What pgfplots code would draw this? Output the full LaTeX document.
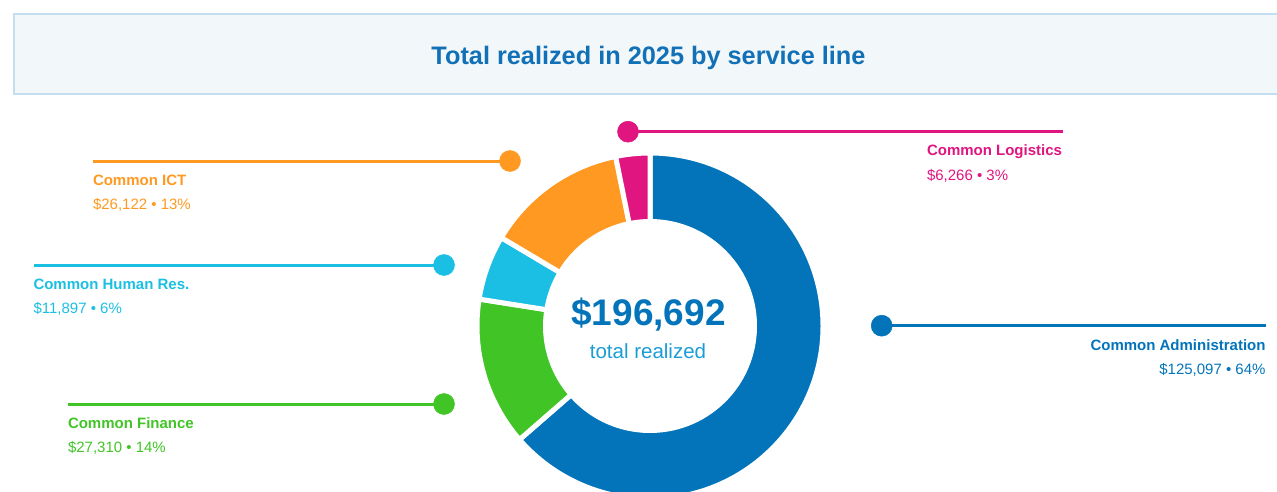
\documentclass[border=0pt]{standalone}
\usepackage{pgfplots}
\pgfplotsset{compat=1.18}
\usepackage{pgfplotstable}
\usepackage{fontspec}
\setmainfont{Liberation Sans}

\definecolor{cAdm}{RGB}{3,116,186}
\definecolor{cFin}{RGB}{65,197,38}
\definecolor{cHR}{RGB}{27,191,227}
\definecolor{cICT}{RGB}{255,153,34}
\definecolor{cLog}{RGB}{224,21,127}
\definecolor{cTitle}{RGB}{18,112,182}
\definecolor{cSub}{RGB}{26,157,215}
\definecolor{cBoxFill}{RGB}{242,247,250}
\definecolor{cBoxLine}{RGB}{194,222,240}

\tikzset{
  lblB/.style={inner sep=0pt, outer sep=0pt, font=\fontsize{15}{18}\selectfont\bfseries},
  lblR/.style={inner sep=0pt, outer sep=0pt, font=\fontsize{15}{18}\selectfont},
}

\pgfplotstableread{
id value
Administration 125097
Finance 27310
HumanRes 11897
ICT 26122
Logistics 6266
}\donutdata

\newcommand\donutwedge[3]{%
  \fill[#1, draw=white, line width=5pt]
    ([shift={(#2:173pt)}]axis cs:650,165) arc[start angle=#2, end angle=#3, radius=173pt]
    -- ([shift={(#3:104.5pt)}]axis cs:650,165) arc[start angle=#3, end angle=#2, radius=104.5pt]
    -- cycle;}

\begin{document}
\begin{tikzpicture}
\pgfplotstablegetelem{0}{value}\of\donutdata \edef\vA{\pgfplotsretval}
\pgfplotstablegetelem{1}{value}\of\donutdata \edef\vB{\pgfplotsretval}
\pgfplotstablegetelem{2}{value}\of\donutdata \edef\vC{\pgfplotsretval}
\pgfplotstablegetelem{3}{value}\of\donutdata \edef\vD{\pgfplotsretval}
\pgfplotstablegetelem{4}{value}\of\donutdata \edef\vE{\pgfplotsretval}
\edef\tot{\fpeval{\vA+\vB+\vC+\vD+\vE}}
\edef\aO{90}
\edef\aA{\fpeval{round(90-360*\vA/\tot,4)}}
\edef\aB{\fpeval{round(\aA-360*\vB/\tot,4)}}
\edef\aC{\fpeval{round(\aB-360*\vC/\tot,4)}}
\edef\aD{\fpeval{round(\aC-360*\vD/\tot,4)}}
\edef\aE{\fpeval{round(\aD-360*\vE/\tot,4)}}
\begin{axis}[
  x=1pt, y=1pt,
  xmin=0, xmax=1277, ymin=0, ymax=491,
  hide axis, clip=false,
]
% title box
\filldraw[fill=cBoxFill, draw=cBoxLine, line width=2.5pt]
  (axis cs:14,477) rectangle (axis cs:1290,397);
\node[anchor=base, inner sep=0pt, text=cTitle, font=\fontsize{25.3}{30}\selectfont\bfseries]
  at (axis cs:648.5,426) {Total realized in 2025 by service line};

% donut
\donutwedge{cAdm}{\aO}{\aA}
\donutwedge{cFin}{\aA}{\aB}
\donutwedge{cHR}{\aB}{\aC}
\donutwedge{cICT}{\aC}{\aD}
\donutwedge{cLog}{\aD}{\aE}

% centre text
\node[anchor=base, inner sep=0pt, text=cAdm, font=\fontsize{37}{44}\selectfont\bfseries]
  at (axis cs:648.5,166) {\$196,692};
\node[anchor=base, inner sep=0pt, text=cSub, font=\fontsize{20.5}{24}\selectfont]
  at (axis cs:648,132.7) {total realized};

% leaders
\addplot[cLog, line width=3pt, mark=*, mark size=10.5pt, mark indices={1}, mark options={line width=0.5pt}]
  coordinates {(628,359.3) (1063,359.3)};
\addplot[cICT, line width=3pt, mark=*, mark size=10.5pt, mark indices={1}, mark options={line width=0.5pt}]
  coordinates {(510,330) (93,330)};
\addplot[cHR, line width=3pt, mark=*, mark size=10.5pt, mark indices={1}, mark options={line width=0.5pt}]
  coordinates {(444,226) (33.5,226)};
\addplot[cFin, line width=3pt, mark=*, mark size=10.5pt, mark indices={1}, mark options={line width=0.5pt}]
  coordinates {(444,87) (68,87)};
\addplot[cAdm, line width=3pt, mark=*, mark size=10.5pt, mark indices={1}, mark options={line width=0.5pt}]
  coordinates {(881.7,165.3) (1266,165.3)};

% labels
\node[lblB, anchor=base west, text=cLog] at (axis cs:927,335) {Common Logistics};
\node[lblR, anchor=base west, text=cLog] at (axis cs:927,311) {\$6,266 • 3\%};
\node[lblB, anchor=base west, text=cICT] at (axis cs:93,305.3) {Common ICT};
\node[lblR, anchor=base west, text=cICT] at (axis cs:93,282) {\$26,122 • 13\%};
\node[lblB, anchor=base west, text=cHR] at (axis cs:33.5,201.7) {Common Human Res.};
\node[lblR, anchor=base west, text=cHR] at (axis cs:33.5,177.7) {\$11,897 • 6\%};
\node[lblB, anchor=base west, text=cFin] at (axis cs:68,62.7) {Common Finance};
\node[lblR, anchor=base west, text=cFin] at (axis cs:68,38.7) {\$27,310 • 14\%};
\node[lblB, anchor=base east, text=cAdm] at (axis cs:1265.5,140.3) {Common Administration};
\node[lblR, anchor=base east, text=cAdm] at (axis cs:1265.5,117) {\$125,097 • 64\%};
\end{axis}
\pgfresetboundingbox
\path[use as bounding box] (0,0) rectangle (1277pt,491pt);
\end{tikzpicture}
\end{document}
